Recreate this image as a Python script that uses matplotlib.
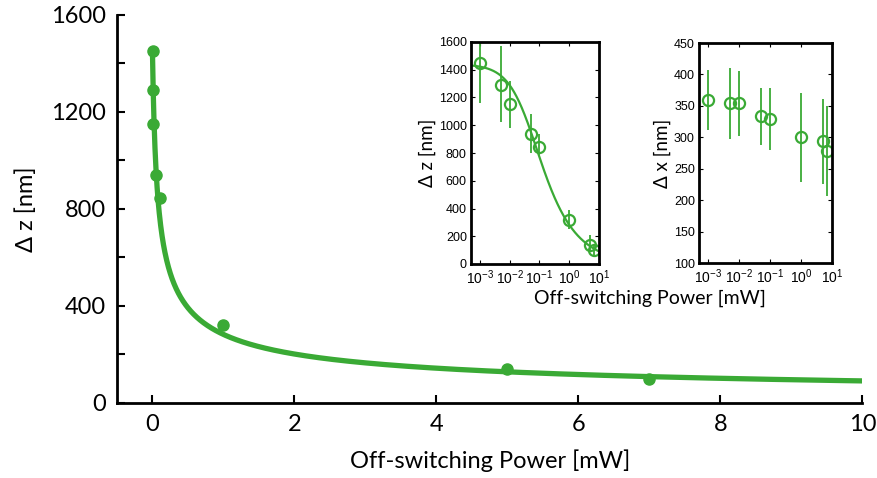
import matplotlib
matplotlib.use("Agg")
import matplotlib.pyplot as plt
from matplotlib.ticker import LogLocator, NullFormatter
import numpy as np

# data
power = np.array([0.001, 0.005, 0.01, 0.05, 0.1, 1.0, 5.0, 7.0])          # mW
dz = np.array([1450, 1290, 1150, 940, 845, 320, 140, 100])                # nm
dz_lo = np.array([1160, 1020, 980, 800, 780, 250, 90, 60])
dz_hi = np.array([1650, 1570, 1320, 1080, 940, 390, 210, 130])
dx = np.array([360, 355, 354, 334, 329, 300, 294, 278])                   # nm
dx_lo = np.array([312, 298, 302, 288, 279, 229, 226, 207])
dx_hi = np.array([407, 411, 405, 379, 378, 370, 361, 350])

# fit parameters: dz = d0 / sqrt(1 + P/Ps)
d0 = 1440.0
Ps = 0.04

green = "#3aaa35"
narrow = ["Lato", "DejaVu Sans"]
plain = ["Liberation Sans", "DejaVu Sans"]

fig = plt.figure(figsize=(8.77, 4.78), dpi=100)

# main plot
ax = fig.add_axes([0.1334, 0.157, 0.850, 0.812])
pp = np.linspace(0, 10, 2000)
ax.plot(pp, d0 / np.sqrt(1 + pp / Ps), color=green, lw=3.8)
ax.plot(power, dz, "o", color=green, ms=8)
ax.set_xlim(-0.5, 10)
ax.set_ylim(0, 1600)
ax.set_xticks(range(0, 11, 2))
ax.set_yticks(range(0, 1601, 400))
ax.set_yticks(range(200, 1600, 400), minor=True)
for s in ["top", "right"]:
    ax.spines[s].set_visible(False)
for s in ["left", "bottom"]:
    ax.spines[s].set_linewidth(2)
ax.tick_params(direction="in", width=1.5, length=6, labelsize=17, pad=8)
ax.tick_params(which="minor", direction="in", width=1.5, length=6)
for lab in ax.get_xticklabels() + ax.get_yticklabels():
    lab.set_family(narrow)
ax.set_xlabel("Off-switching Power [mW]", fontsize=17, family=narrow, labelpad=10)
ax.set_ylabel("Δ z [nm]", fontsize=17, family=narrow, labelpad=10)


def inset(rect, y, lo, hi, ylim, yticks, ylabel):
    a = fig.add_axes(rect)
    a.set_xscale("log")
    a.errorbar(power, y, yerr=[y - lo, hi - y], fmt="none", ecolor=green, elinewidth=1.3)
    a.plot(power, y, "o", mfc="none", mec=green, mew=1.6, ms=8)
    a.set_xlim(5e-4, 10)
    a.set_ylim(*ylim)
    a.set_yticks(yticks)
    a.set_xticks([1e-3, 1e-2, 1e-1, 1, 10])
    a.xaxis.set_minor_locator(LogLocator(base=10, subs=np.arange(2, 10)))
    a.xaxis.set_minor_formatter(NullFormatter())
    for s in a.spines.values():
        s.set_linewidth(2)
    a.tick_params(direction="in", labelsize=9, length=3, top=True, right=True, pad=3)
    a.tick_params(axis="x", labelsize=10, pad=3)
    a.tick_params(which="minor", direction="in", length=1.5, top=True)
    for lab in a.get_xticklabels() + a.get_yticklabels():
        lab.set_family(plain)
    a.set_ylabel(ylabel, fontsize=13.5, family=narrow, labelpad=2)
    return a


ins1 = inset([471 / 877, 1 - 264 / 478, 128 / 877, 222 / 478], dz, dz_lo, dz_hi,
             (0, 1600), range(0, 1601, 200), "Δ z [nm]")
pf = np.logspace(np.log10(5e-4), 1, 400)
ins1.plot(pf, d0 / np.sqrt(1 + pf / Ps), color=green, lw=1.6)

inset([699 / 877, 1 - 263 / 478, 133 / 877, 220 / 478], dx, dx_lo, dx_hi,
      (100, 450), range(100, 451, 50), "Δ x [nm]")

fig.text(650 / 877, 1 - 298 / 478, "Off-switching Power [mW]", ha="center", va="center",
         fontsize=14, family=narrow)

fig.savefig("out.png", dpi=100)
